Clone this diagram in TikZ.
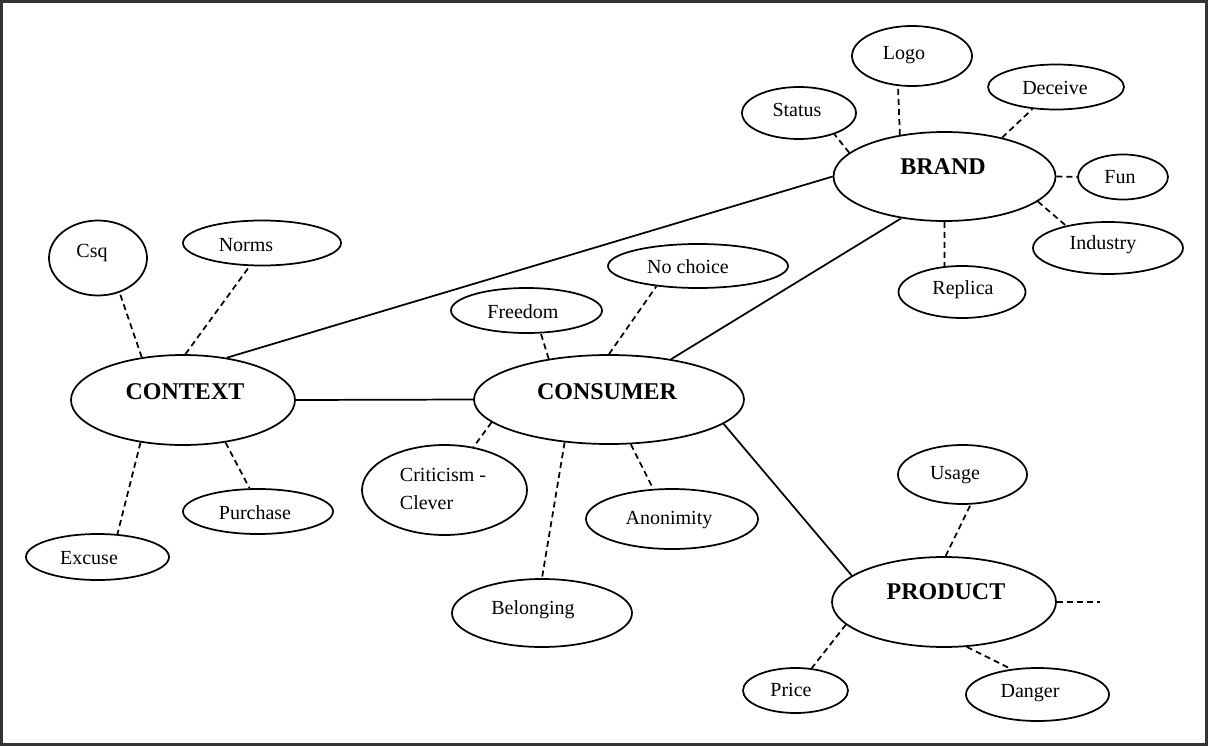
\documentclass[tikz,border=0pt]{standalone}
\usepackage{fontspec}
\setmainfont{Liberation Serif}
\usetikzlibrary{shapes.geometric}
\begin{document}
\begin{tikzpicture}[x=0.75pt,y=-0.75pt,
  bub/.style 2 args={ellipse, draw, line width=1.3pt, inner sep=0pt,
     minimum width=#1*1.5pt, minimum height=#2*1.5pt},
  lab/.style={inner sep=0pt, font=\fontsize{15}{21}\selectfont},
  big/.style={inner sep=0pt, font=\fontsize{18}{21}\selectfont\bfseries},
  solidl/.style={line width=1.3pt},
  dashl/.style={line width=1.3pt, dash pattern=on 4.5pt off 3pt}]
\useasboundingbox (0,0) rectangle (1208,746);
\draw[line width=1.8pt, black!80] (1.5,1.5) rectangle (1206.5,744.5);

% main ellipses
\node[bub={111}{44.5}] (brand) at (944.5,176.5) {};
\node[bub={112}{45}] (context) at (183,400) {};
\node[bub={135}{44.5}] (consumer) at (609,399.5) {};
\node[bub={112}{45}] (product) at (944,602) {};
\node[big] (brandT) at (943,167) {BRAND};
\node[big] (contextT) at (185,392) {CONTEXT};
\node[big] (consumerT) at (607,392) {CONSUMER};
\node[big] (productT) at (946,592) {PRODUCT};

% brand satellites
\node[bub={60}{30}] (logo) at (912,56) {};
\node[bub={57}{26}] (status) at (799,113) {};
\node[bub={68}{22.5}] (deceive) at (1056,87) {};
\node[bub={45}{22.5}] (fun) at (1123,177) {};
\node[bub={75}{26}] (industry) at (1108,248) {};
\node[bub={63.5}{26}] (replica) at (962,292) {};
\node[lab] (logoT) at (904,55) {Logo};
\node[lab] (statusT) at (797,110) {Status};
\node[lab] (deceiveT) at (1055,88) {Deceive};
\node[lab] (funT) at (1120,177) {Fun};
\node[lab] (industryT) at (1103,245) {Industry};
\node[lab] (replicaT) at (963,290) {Replica};

% context satellites
\node[bub={49}{37.5}] (csq) at (98,258) {};
\node[bub={79}{22.5}] (norms) at (262,243) {};
\node[bub={71.5}{23}] (excuse) at (97.5,557) {};
\node[bub={75}{22.5}] (purchase) at (258,511.5) {};
\node[lab] (csqT) at (92,253) {Csq};
\node[lab] (normsT) at (246,245) {Norms};
\node[lab] (excuseT) at (89,558) {Excuse};
\node[lab] (purchaseT) at (255,513) {Purchase};

% consumer satellites
\node[bub={75.5}{22.5}] (freedom) at (526.5,310.5) {};
\node[bub={90}{22}] (nochoice) at (698,266) {};
\node[bub={82.5}{45}] (criticism) at (444.5,490) {};
\node[bub={86}{30}] (anonimity) at (672,519) {};
\node[bub={90}{34}] (belonging) at (542,613) {};
\node[lab] (freedomT) at (523,312) {Freedom};
\node[lab] (nochoiceT) at (688,267) {No choice};
\node[lab, align=left] (criticismT) at (443,489) {Criticism -\\Clever};
\node[lab] (anonimityT) at (669,520) {Anonimity};
\node[lab] (belongingT) at (533,610) {Belonging};

% product satellites
\node[bub={64.5}{29.5}] (usage) at (962.5,474.5) {};
\node[bub={52.5}{22.5}] (price) at (795.5,690.5) {};
\node[bub={71.5}{26.5}] (danger) at (1037.5,694.5) {};
\node[lab] (usageT) at (955,475) {Usage};
\node[lab] (priceT) at (791,690) {Price};
\node[lab] (dangerT) at (1030,693) {Danger};
\coordinate (pfree) at (1100,602);

% solid connectors
\draw[solidl] (context.44.4) -- (brand.west);
\draw[solidl] (consumer.33.6) -- (brand.224.4);
\draw[solidl] (context.east) -- (consumer.west);
\draw[solidl] (consumer.348.4) -- (product.164.3);

% dashed connectors: brand
\draw[dashl] (brand.137) -- (logo.245);
\draw[dashl] (brand.166.5) -- (status.329.5);
\draw[dashl] (brand.34.2) -- (deceive.223.7);
\draw[dashl] (brand.east) -- (fun.west);
\draw[dashl] (brand.345.6) -- (industry.152.5);
\draw[dashl] (brand.south) -- (replica.124.7);

% dashed connectors: context
\draw[dashl] (context.134.4) -- (csq.302.3);
\draw[dashl] (context.87.5) -- (norms.242.4);
\draw[dashl] (context.225.6) -- (excuse.49.7);
\draw[dashl] (context.315) -- (purchase.110);

% dashed connectors: consumer
\draw[dashl] (consumer.146.8) -- (freedom.302.8);
\draw[dashl] (consumer.north) -- (nochoice.206.6);
\draw[dashl] (consumer.191.8) -- (criticism.56.8);
\draw[dashl] (consumer.224.7) -- (belonging.north);
\draw[dashl] (consumer.296) -- (anonimity.122.3);

% dashed connectors: product
\draw[dashl] (product.88) -- (usage.285);
\draw[dashl] (product.193.9) -- (price.54.9);
\draw[dashl] (product.297.6) -- (danger.136);
\draw[dashl] (product.east) -- (pfree);
\end{tikzpicture}
\end{document}
